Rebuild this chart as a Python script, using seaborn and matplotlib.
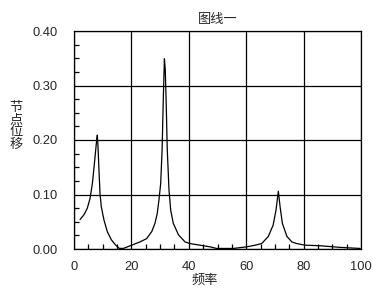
import matplotlib
matplotlib.use("Agg")
import matplotlib.pyplot as plt
import seaborn as sns
import pandas as pd
from matplotlib.ticker import MultipleLocator

freq = [2.1, 3.5, 4.65, 5.6, 6.4, 7.0, 7.55, 7.9, 8.13, 8.36, 8.7, 9.06, 9.5,
        10.45, 11.6, 13.0, 14.5, 15.7, 17.2, 20.1, 23.0, 25.3, 27.1, 28.2, 29.0,
        29.6, 30.2, 30.7, 31.1, 31.5, 31.8, 32.1, 32.5, 33.1, 33.7, 34.6, 36.4,
        38.7, 40.4, 43.9, 47.4, 49.7, 55.5, 60.2, 63.1, 65.4, 67.7, 69.4, 70.4,
        71.2, 71.8, 72.6, 74.2, 75.9, 77.6, 80.5, 85.7, 92.7, 99.7]
disp = [0.054, 0.063, 0.075, 0.093, 0.120, 0.151, 0.181, 0.200, 0.209, 0.188,
        0.145, 0.102, 0.078, 0.053, 0.032, 0.017, 0.0073, 0.0013, 0.001, 0.007,
        0.013, 0.019, 0.032, 0.047, 0.065, 0.090, 0.120, 0.182, 0.273, 0.349,
        0.329, 0.273, 0.182, 0.108, 0.071, 0.047, 0.026, 0.013, 0.010, 0.007,
        0.004, 0.001, 0.001, 0.004, 0.007, 0.010, 0.023, 0.044, 0.072, 0.106,
        0.078, 0.047, 0.023, 0.013, 0.010, 0.007, 0.006, 0.003, 0.001]

x_ticks = [0, 20, 40, 60, 80, 100]
y_ticks = [0.00, 0.10, 0.20, 0.30, 0.40]
y_tick_labels = ["0.00", "0.10", "0.20", "0.30", "0.40"]
title = "图线一"
xlabel = "频率"
ylabel = "节\n点\n位\n移"

sns.set_style("white")
plt.rcParams['font.family'] = ['Noto Sans CJK SC', 'Liberation Sans', 'DejaVu Sans']

df = pd.DataFrame({"freq": freq, "disp": disp})

fig = plt.figure(figsize=(3.73, 2.92), dpi=100)
ax = fig.add_axes([74/373, 1 - 249/292, 287/373, 218/292])
sns.lineplot(data=df, x="freq", y="disp", ax=ax, color="black", linewidth=0.9)

ax.set_xlim(0, 100)
ax.set_ylim(0, 0.40)
ax.set_xticks(x_ticks)
ax.set_xticklabels([str(t) for t in x_ticks], family=['Liberation Sans'], fontsize=9.3)
ax.set_yticks(y_ticks)
ax.set_yticklabels(y_tick_labels, family=['Liberation Sans'], fontsize=9.3)
ax.xaxis.set_minor_locator(MultipleLocator(5))
ax.yaxis.set_minor_locator(MultipleLocator(0.025))
ax.tick_params(axis='x', which='major', length=0, pad=9)
ax.tick_params(axis='y', which='major', length=0, pad=11.5)
ax.tick_params(which='minor', direction='in', length=3.5, width=0.9, color='black',
               bottom=True, left=True)
ax.grid(True, which='major', color='black', linewidth=0.9)
for s in ax.spines.values():
    s.set_color('black')
    s.set_linewidth(0.9)
ax.set_xlabel("")
ax.set_ylabel("")
ax.set_title(title, fontsize=9.5, pad=6)
fig.text(205/373, 1 - 280/292, xlabel, ha='center', va='center', fontsize=9.5)
fig.text(16/373, 1 - 126/292, ylabel, ha='center', va='center', fontsize=9.5,
         linespacing=0.9)

fig.savefig("out.png", dpi=100)
